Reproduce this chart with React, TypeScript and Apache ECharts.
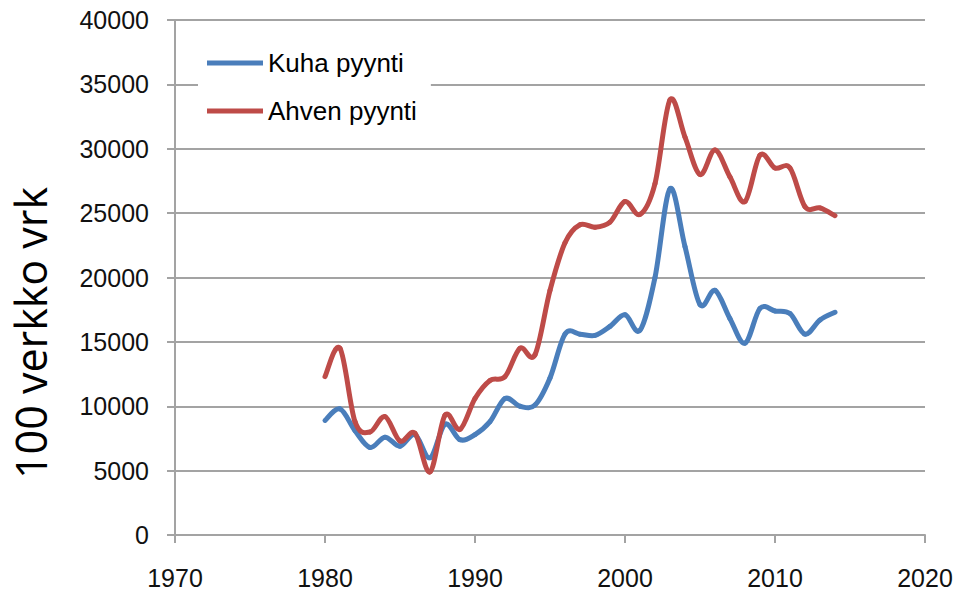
import React, { useEffect, useRef } from "react";
import * as echarts from "echarts";

const years = [
  1980, 1981, 1982, 1983, 1984, 1985, 1986, 1987, 1988, 1989,
  1990, 1991, 1992, 1993, 1994, 1995, 1996, 1997, 1998, 1999,
  2000, 2001, 2002, 2003, 2004, 2005, 2006, 2007, 2008, 2009,
  2010, 2011, 2012, 2013, 2014,
];

const kuhaPyynti = [
  8900, 9800, 8100, 6800, 7600, 6900, 7800, 6000, 8600, 7400,
  7800, 8800, 10600, 10000, 10100, 12200, 15600, 15600, 15500, 16200,
  17100, 15900, 20000, 26900, 22400, 17900, 19000, 16800, 14900, 17600,
  17400, 17200, 15600, 16700, 17300,
];

const ahvenPyynti = [
  12300, 14500, 8800, 8000, 9200, 7300, 7900, 4900, 9300, 8200,
  10600, 12000, 12300, 14500, 14000, 19000, 22700, 24100, 23900, 24300,
  25900, 24900, 27300, 33800, 30900, 28000, 29900, 27800, 25900, 29500,
  28500, 28500, 25500, 25400, 24800,
];

const seriesNames = ["Kuha pyynti", "Ahven pyynti"];
const seriesColors = ["#4a7ebb", "#be4b48"];
const yTitle = "100 verkko vrk";

function smoothSeries(name: string, values: number[], color: string) {
  const n = years.length;
  return {
    name,
    type: "custom",
    data: years.map((y, i) => [y, values[i]]),
    itemStyle: { color },
    encode: { x: 0, y: 1 },
    renderItem: (params: any, api: any) => {
      const i = params.dataIndex;
      if (i >= n - 1) return { type: "group", children: [] };
      const pt = (k: number) => {
        const kk = Math.max(0, Math.min(n - 1, k));
        return api.coord([years[kk], values[kk]]);
      };
      const p0 = pt(i - 1);
      const p1 = pt(i);
      const p2 = pt(i + 1);
      const p3 = pt(i + 2);
      const t = 1 / 6;
      return {
        type: "bezierCurve",
        shape: {
          x1: p1[0],
          y1: p1[1],
          x2: p2[0],
          y2: p2[1],
          cpx1: p1[0] + (p2[0] - p0[0]) * t,
          cpy1: p1[1] + (p2[1] - p0[1]) * t,
          cpx2: p2[0] - (p3[0] - p1[0]) * t,
          cpy2: p2[1] - (p3[1] - p1[1]) * t,
        },
        style: { stroke: color, lineWidth: 5, fill: "none", lineCap: "round" },
      };
    },
  };
}

export default function App() {
  const ref = useRef<HTMLDivElement>(null);
  useEffect(() => {
    if (!ref.current) return;
    const chart = echarts.init(ref.current, undefined, { renderer: "svg" });
    const font = "'Liberation Sans', Arial, sans-serif";
    const gray = "#a3a3a3";
    chart.setOption({
      animation: false,
      backgroundColor: "#ffffff",
      textStyle: { fontFamily: font },
      color: seriesColors,
      grid: { left: 175, right: 32, top: 20, bottom: 57, containLabel: false },
      legend: {
        orient: "vertical",
        left: 198,
        top: 40,
        padding: [10, 14, 10, 9],
        backgroundColor: "#ffffff",
        icon: "rect",
        itemWidth: 56,
        itemHeight: 5,
        itemGap: 22,
        textStyle: { fontSize: 26, color: "#000", fontFamily: font },
        data: seriesNames,
      },
      xAxis: {
        type: "value",
        min: 1970,
        max: 2020,
        interval: 10,
        axisLine: { show: true, lineStyle: { color: gray, width: 2 } },
        axisTick: { show: true, length: 8, lineStyle: { color: gray, width: 2 } },
        splitLine: { show: false },
        axisLabel: {
          fontSize: 25,
          color: "#111",
          margin: 30,
          fontFamily: font,
          formatter: (v: number) => String(v),
        },
      },
      yAxis: {
        type: "value",
        min: 0,
        max: 40000,
        interval: 5000,
        axisLine: { show: true, lineStyle: { color: gray, width: 2 } },
        axisTick: { show: true, length: 8, lineStyle: { color: gray, width: 2 } },
        splitLine: { show: true, lineStyle: { color: gray, width: 2 } },
        axisLabel: {
          fontSize: 25,
          color: "#111",
          margin: 26,
          fontFamily: font,
          formatter: (v: number) => String(v),
        },
      },
      graphic: [
        {
          type: "text",
          x: 30,
          y: 333,
          rotation: Math.PI / 2,
          style: {
            text: yTitle,
            fontSize: 43,
            fontFamily: "'Open Sans', sans-serif",
            fill: "#000",
            textAlign: "center",
            textVerticalAlign: "middle",
          },
        },
      ],
      series: [
        smoothSeries(seriesNames[0], kuhaPyynti, seriesColors[0]),
        smoothSeries(seriesNames[1], ahvenPyynti, seriesColors[1]),
      ],
    });
    return () => chart.dispose();
  }, []);
  return (
    <div
      ref={ref}
      style={{ position: "absolute", left: 0, top: 0, width: 957, height: 592 }}
    />
  );
}
